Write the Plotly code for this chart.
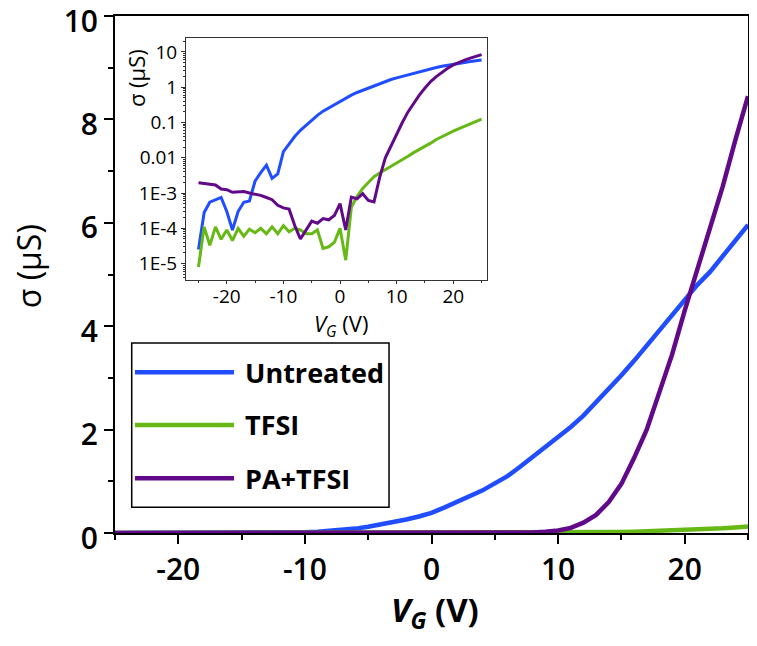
import plotly.graph_objects as go


# -------------------------
# DATA
# -------------------------
vg = list(range(-25, 26))

untreated = [
    2.5e-5, 2.8e-4, 5.5e-4, 6.5e-4, 7.5e-4, 3e-4, 9e-5, 3e-4, 5.5e-4, 6e-4,
    2.2e-3, 3.8e-3, 6.2e-3, 2.6e-3, 3.5e-3, 0.015, 0.025, 0.04, 0.06, 0.085,
    0.12, 0.16, 0.21, 0.26, 0.32, 0.39, 0.49, 0.6, 0.71, 0.82,
    0.96, 1.1, 1.28, 1.47, 1.66, 1.85, 2.05, 2.27, 2.52, 2.78,
    3.05, 3.33, 3.63, 3.93, 4.23, 4.52, 4.8, 5.05, 5.35, 5.65, 5.96,
]

tfsi = [
    8e-6, 1.1e-4, 3.3e-5, 1.1e-4, 4.9e-5, 9e-5, 4.5e-5, 1e-4, 6e-5, 9.5e-5,
    7.5e-5, 1e-4, 7e-5, 1.1e-4, 7e-5, 1.2e-4, 8e-5, 1e-4, 9e-5, 7e-5,
    7e-5, 9e-5, 2.7e-5, 3e-5, 4e-5, 1e-4, 1.25e-5, 4e-4, 8e-4, 1.35e-3,
    2e-3, 2.9e-3, 3.7e-3, 4.6e-3, 5.5e-3, 7e-3, 9e-3, 0.011, 0.014, 0.017,
    0.021, 0.026, 0.033, 0.04, 0.048, 0.057, 0.067, 0.078, 0.09, 0.105, 0.125,
]

pa_tfsi = [
    1.95e-3, 1.85e-3, 1.8e-3, 1.7e-3, 1.3e-3, 1.25e-3, 1.05e-3, 1.1e-3, 1.1e-3, 1e-3,
    9.5e-4, 8.6e-4, 7.5e-4, 6.5e-4, 4.5e-4, 3.8e-4, 3.5e-4, 1.2e-4, 5e-5, 9e-5,
    1.6e-4, 1.4e-4, 1.9e-4, 1.75e-4, 2.3e-4, 5e-4, 9e-5, 7.7e-4, 6.9e-4, 9.6e-4,
    6.2e-4, 5.6e-4, 2.8e-3, 0.01, 0.022, 0.05, 0.1, 0.2, 0.35, 0.6,
    0.95, 1.45, 2.0, 2.7, 3.45, 4.3, 5.1, 5.9, 6.7, 7.6, 8.45,
]

series_names = ["Untreated", "TFSI", "PA+TFSI"]
series_values = [untreated, tfsi, pa_tfsi]
colors = ["#1f4dff", "#66b814", "#62098a"]

main_x_ticks = [-20, -10, 0, 10, 20]
main_x_text = ["-20", "-10", "0", "10", "20"]
main_y_ticks = [0, 2, 4, 6, 8, 10]

inset_x_ticks = [-20, -10, 0, 10, 20]
inset_x_text = ["-20", "-10", "0", "10", "20"]
inset_y_ticks = [1e-5, 1e-4, 1e-3, 0.01, 0.1, 1, 10]
inset_y_text = ["1E-5", "1E-4", "1E-3", "0.01", "0.1", "1", "10"]

FONT = "Open Sans"

# -------------------------
# FIGURE
# -------------------------
fig = go.Figure()

for name, vals, col in zip(series_names, series_values, colors):
    fig.add_trace(go.Scatter(
        x=vg, y=vals, mode="lines", name=name,
        line=dict(color=col, width=4.5),
        xaxis="x", yaxis="y", showlegend=False
    ))

for name, vals, col in zip(series_names, series_values, colors):
    fig.add_trace(go.Scatter(
        x=vg, y=vals, mode="lines", name=name,
        line=dict(color=col, width=3),
        xaxis="x2", yaxis="y2", showlegend=False
    ))

# log minor tick positions for inset
minor_log = [m * 10 ** e for e in range(-6, 2) for m in range(2, 10)]

# page body adds an 8px margin, so the figure is made smaller to fit
fig.update_layout(
    width=741, height=630,
    margin=dict(l=107, r=1, t=8, b=105, autoexpand=False),
    paper_bgcolor="white", plot_bgcolor="white",
    font=dict(family=FONT, color="black"),
    xaxis=dict(
        domain=[0, 1], range=[-25, 25],
        tickvals=main_x_ticks, ticktext=main_x_text,
        ticks="outside", ticklen=9, tickwidth=2, tickcolor="black",
        minor=dict(dtick=5, tick0=-25, ticks="outside", ticklen=5,
                   tickwidth=2, tickcolor="black"),
        showline=True, linewidth=2, linecolor="black", mirror=True,
        showgrid=False, zeroline=False, ticklabeloverflow="allow",
        tickfont=dict(size=30, family=FONT, weight=600),
    ),
    yaxis=dict(
        domain=[0, 1], range=[0, 10],
        tickvals=main_y_ticks,
        ticks="outside", ticklen=9, tickwidth=2, tickcolor="black",
        minor=dict(dtick=1, tick0=0, ticks="outside", ticklen=5,
                   tickwidth=2, tickcolor="black"),
        showline=True, linewidth=2, linecolor="black", mirror=True,
        showgrid=False, zeroline=False, ticklabeloverflow="allow",
        ticklabelshift=5,
        tickfont=dict(size=30, family=FONT, weight=600),
    ),
    xaxis2=dict(
        domain=[0.1122, 0.5872], anchor="y2", range=[-27.2, 25.9],
        tickvals=inset_x_ticks, ticktext=inset_x_text,
        ticks="outside", ticklen=3, tickwidth=1, tickcolor="#333",
        minor=dict(dtick=5, tick0=-25, ticks="outside", ticklen=2,
                   tickwidth=1, tickcolor="#333"),
        showline=True, linewidth=1, linecolor="#333", mirror=True,
        showgrid=False, zeroline=False, ticklabelstandoff=-4,
        tickfont=dict(size=19, family=FONT),
    ),
    yaxis2=dict(
        domain=[0.489, 0.957], anchor="x2", type="log",
        range=[-5.47, 1.39],
        tickvals=inset_y_ticks, ticktext=inset_y_text,
        ticks="outside", ticklen=4, tickwidth=1, tickcolor="#333",
        minor=dict(tickvals=minor_log, ticks="outside", ticklen=2,
                   tickwidth=1, tickcolor="#333"),
        showline=True, linewidth=1, linecolor="#333", mirror=True,
        showgrid=False, zeroline=False,
        tickfont=dict(size=19, family=FONT),
    ),
)

# -------------------------
# AXIS TITLES
# -------------------------
fig.add_annotation(xref="paper", yref="paper", x=0.5055, y=-0.151,
                   text="<b><i>V</i><sub><i>G</i></sub> (V)</b>",
                   showarrow=False, xanchor="center", yanchor="middle",
                   font=dict(size=33, family=FONT))
fig.add_annotation(xref="paper", yref="paper", x=-0.1374, y=0.516,
                   text="σ (µS)", textangle=-90,
                   showarrow=False, xanchor="center", yanchor="middle",
                   font=dict(size=32, family=FONT))
fig.add_annotation(xref="paper", yref="paper", x=0.357, y=0.403,
                   text="<i>V</i><sub><i>G</i></sub> (V)",
                   showarrow=False, xanchor="center", yanchor="middle",
                   font=dict(size=22, family=FONT))
fig.add_annotation(xref="paper", yref="paper", x=0.0332, y=0.880,
                   text="σ (µS)", textangle=-90,
                   showarrow=False, xanchor="center", yanchor="middle",
                   font=dict(size=22, family=FONT))

# -------------------------
# LEGEND (drawn by hand for long line samples)
# -------------------------
fig.add_shape(type="rect", xref="paper", yref="paper",
              x0=0.0264, x1=0.4329, y0=0.050, y1=0.3675,
              line=dict(color="black", width=1.5), fillcolor="white", layer="above")

legend_y = [0.311, 0.209, 0.106]
for name, col, ly in zip(series_names, colors, legend_y):
    fig.add_shape(type="line", xref="paper", yref="paper",
                  x0=0.0316, x1=0.188, y0=ly, y1=ly,
                  line=dict(color=col, width=4.5), layer="above")
    fig.add_annotation(xref="paper", yref="paper", x=0.2022, y=ly,
                       text=f"<b>{name}</b>", showarrow=False,
                       xanchor="left", yanchor="middle",
                       font=dict(size=27, family=FONT, color="black"))

fig.write_html("out.html")
